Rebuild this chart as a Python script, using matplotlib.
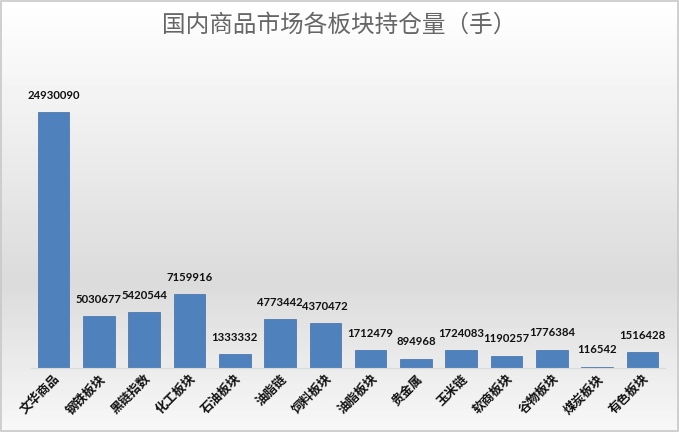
import matplotlib
matplotlib.use('Agg')
import matplotlib.pyplot as plt
import numpy as np

plt.rcParams['font.family'] = ['Noto Sans CJK SC', 'DejaVu Sans']

sectors = ['文华商品', '钢铁板块', '黑链指数', '化工板块', '石油板块', '油脂链', '饲料板块',
           '油脂板块', '贵金属', '玉米链', '软商板块', '谷物板块', '煤炭板块', '有色板块']
positions = [24930090, 5030677, 5420544, 7159916, 1333332, 4773442, 4370472,
             1712479, 894968, 1724083, 1190257, 1776384, 116542, 1516428]

fig = plt.figure(figsize=(6.79, 4.32), dpi=100)

# background gradient (white at top, light gray lower down)
bg = fig.add_axes([0, 0, 1, 1], zorder=-10)
grad = np.concatenate([np.linspace(1.0, 0.86, 65), np.linspace(0.86, 0.97, 35)])
bg.imshow(grad[:, None], aspect='auto', cmap='gray', vmin=0, vmax=1,
          extent=[0, 1, 0, 1], origin='upper')
bg.set_xlim(0, 1)
bg.set_ylim(0, 1)
bg.axis('off')
bg.add_patch(plt.Rectangle((0.002, 0.003), 0.996, 0.994, fill=False,
                           edgecolor='#c8c8c8', lw=1.2))

ax = fig.add_axes([31 / 679, 1 - 368 / 432, 634 / 679, 308 / 432])
ax.patch.set_alpha(0)
x = np.arange(len(sectors))
bars = ax.bar(x, positions, width=0.7, color='#4f81bd', edgecolor='#3f6fa8', lw=0.5)
for xi, v in zip(x, positions):
    ax.annotate(str(v), (xi, v), xytext=(0, 12.2), textcoords='offset points',
                ha='center', va='center', fontsize=8.2, family=['Lato', 'DejaVu Sans'],
                fontweight='bold', color='#111111')

ax.set_xlim(-0.5, len(sectors) - 0.5)
ax.set_ylim(0, 30000000)
ax.set_yticks([])
ax.set_xticks(x)
ax.set_xticklabels(sectors, rotation=45, ha='right', rotation_mode='anchor',
                   fontsize=9, fontweight='bold', color='#111111')
ax.tick_params(axis='x', length=0, pad=3)
for s in ['top', 'right', 'left']:
    ax.spines[s].set_visible(False)
ax.spines['bottom'].set_color('#d9d9d9')

fig.text(0.5, 1 - 25 / 432, '国内商品市场各板块持仓量（手）', ha='center', va='center',
         fontsize=17, color='#666666')

fig.savefig('out.png', dpi=100)
